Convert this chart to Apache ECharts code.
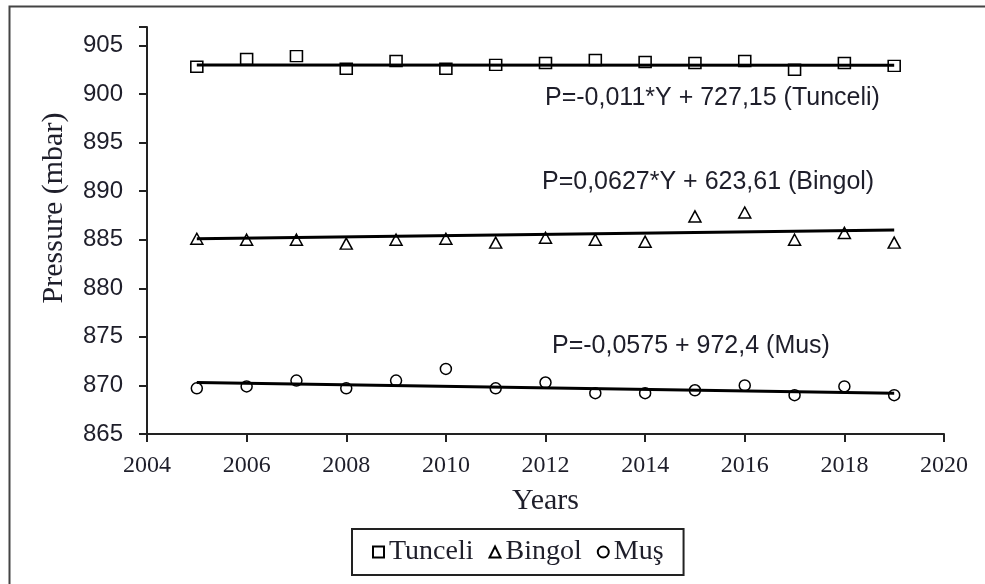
<!DOCTYPE html>
<html>
<head>
<meta charset="utf-8">
<script src="https://cdn.jsdelivr.net/npm/echarts@6/dist/echarts.min.js"></script>
<style>html,body{margin:0;padding:0;background:#fff;}#c{width:985px;height:584px;}</style>
</head>
<body>
<div id="c"></div>
<script>
var years = [2005, 2006, 2007, 2008, 2009, 2010, 2011, 2012, 2013, 2014, 2015, 2016, 2017, 2018, 2019];
var tunceli = [902.8, 903.6, 903.9, 902.6, 903.4, 902.6, 903.0, 903.2, 903.5, 903.3, 903.2, 903.4, 902.5, 903.2, 902.9];
var bingol = [885.1, 885.0, 885.0, 884.6, 885.0, 885.1, 884.7, 885.2, 885.0, 884.8, 887.4, 887.8, 885.0, 885.7, 884.7];
var mus = [869.7, 869.9, 870.5, 869.7, 870.5, 871.7, 869.7, 870.3, 869.2, 869.2, 869.5, 870.0, 869.0, 869.9, 869.0];
var trendYears = [2005, 2019];
var tunceliTrend = [903.0, 902.95];
var bingolTrend = [885.1, 886.0];
var musTrend = [870.3, 869.2];
var seriesNames = ['Tunceli', 'Bingol', 'Muş'];
var equations = ['P=-0,011*Y + 727,15 (Tunceli)', 'P=0,0627*Y + 623,61 (Bingol)', 'P=-0,0575 + 972,4 (Mus)'];
var yTitle = 'Pressure (mbar)';
var xTitle = 'Years';

function pairs(xs, ys) { return xs.map(function (x, i) { return [x, ys[i]]; }); }

var chart = echarts.init(document.getElementById('c'), null, { renderer: 'canvas' });
var txtColor = '#1e1e2a';
var hollow = { color: '#fff', borderColor: '#000', borderWidth: 1.5, opacity: 1 };

function scatter(name, vals, symbol, size) {
  return { name: name, type: 'scatter', data: pairs(years, vals), symbol: symbol, symbolSize: size,
    itemStyle: hollow, z: 2, emphasis: { disabled: true } };
}
function trend(vals) {
  return { type: 'line', data: pairs(trendYears, vals), showSymbol: false, symbol: 'none',
    lineStyle: { color: '#000', width: 3 }, z: 3, silent: true };
}

chart.setOption({
  animation: false,
  backgroundColor: '#fff',
  grid: { left: 147, right: 41, top: 27, bottom: 150 },
  xAxis: {
    type: 'value', min: 2004, max: 2020, interval: 2,
    name: xTitle, nameLocation: 'middle', nameGap: 52,
    nameTextStyle: { fontFamily: 'Liberation Serif', fontSize: 30, color: txtColor },
    axisLine: { lineStyle: { color: '#222', width: 2 } },
    axisTick: { length: 8, lineStyle: { color: '#222', width: 2 } },
    axisLabel: { fontFamily: 'Liberation Serif', fontSize: 24, color: txtColor, margin: 20,
      formatter: function (v) { return String(v); } },
    splitLine: { show: false }
  },
  yAxis: {
    type: 'value', min: 865, max: 906.9, interval: 5,
    axisLine: { lineStyle: { color: '#222', width: 2 } },
    axisTick: { length: 8, lineStyle: { color: '#222', width: 2 } },
    axisLabel: { fontFamily: 'Liberation Sans', fontSize: 24, color: txtColor, margin: 24,
      formatter: function (v) { return (Math.abs(v % 5) < 1e-6) ? String(v) : ''; } },
    splitLine: { show: false }
  },
  legend: {
    data: seriesNames,
    left: 352, top: 529,
    orient: 'horizontal',
    itemWidth: 11, itemHeight: 11, itemGap: 15,
    padding: [9, 20, 9, 20],
    borderColor: '#222', borderWidth: 2,
    textStyle: { fontFamily: 'Liberation Serif', fontSize: 28, color: txtColor },
    selectedMode: false
  },
  graphic: [
    { type: 'rect', left: 7, top: 4, shape: { width: 1100, height: 700 }, style: { fill: 'none', stroke: '#444', lineWidth: 2 }, silent: true, z: -10 },
    { type: 'text', x: 54, y: 208, rotation: Math.PI / 2, style: { text: yTitle, font: '30px "Liberation Serif"', fill: txtColor, align: 'center', verticalAlign: 'middle' } },
    { type: 'text', left: 545, top: 86, style: { text: equations[0], font: '25px "Liberation Sans"', fill: txtColor } },
    { type: 'text', left: 542, top: 170, style: { text: equations[1], font: '25px "Liberation Sans"', fill: txtColor } },
    { type: 'text', left: 552, top: 334, style: { text: equations[2], font: '25px "Liberation Sans"', fill: txtColor } }
  ],
  series: [
    scatter(seriesNames[0], tunceli, 'rect', [12, 11]),
    scatter(seriesNames[1], bingol, 'triangle', [12, 11]),
    scatter(seriesNames[2], mus, 'circle', 11),
    trend(tunceliTrend),
    trend(bingolTrend),
    trend(musTrend)
  ]
});
</script>
</body>
</html>
